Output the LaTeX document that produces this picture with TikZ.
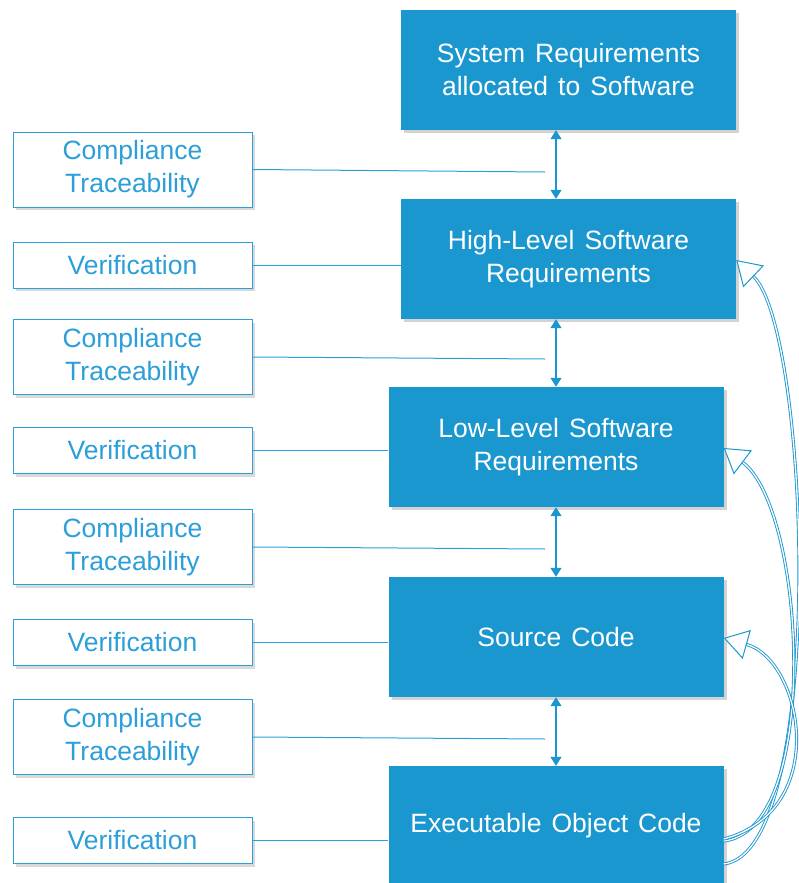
\documentclass[tikz,border=0pt]{standalone}
\usepackage{fontspec}
\setmainfont{Liberation Sans}
\usetikzlibrary{arrows.meta,shadows}
\definecolor{boxblue}{HTML}{1B97D0}
\definecolor{txtblue}{HTML}{2C9FD8}
\newcommand\wordgap{\spaceskip 10pt\relax}

\begin{document}
\begin{tikzpicture}[x=1pt,y=-1pt,
    stage/.style={fill=boxblue,text=white,minimum width=335pt,minimum height=120pt,align=center,
      font=\fontsize{26.5}{33}\selectfont\wordgap,drop shadow={shadow xshift=3pt,shadow yshift=-3pt,opacity=.35}},
    check/.style={draw=txtblue,fill=white,text=txtblue,line width=1pt,minimum width=239pt,align=center,
      font=\fontsize{26.5}{33}\selectfont,drop shadow={shadow xshift=3pt,shadow yshift=-3pt,opacity=.3}},
    link/.style={txtblue,line width=1pt},
    dbl/.style={boxblue,line width=1.3pt,{Triangle[length=9pt,width=11pt]}-{Triangle[length=9pt,width=11pt]}},
    back/.style={boxblue,double=white,double distance=1.3pt,line width=.9pt,
      -{Triangle[fill=white,length=24pt,width=30pt,line width=1pt]}}]
  \useasboundingbox (0,0) rectangle (798,883);
  \node[stage] (sys) at (568.5,70) {System Requirements\\allocated to Software};
  \node[stage] (hlr) at (568.5,259) {High-Level Software\\Requirements};
  \node[stage] (llr) at (556,447) {Low-Level Software\\Requirements};
  \node[stage] (src) at (556,637) {Source Code};
  \node[stage] (eoc) at (556,826) {Executable Object Code};
  \node[check,minimum height=75pt] (ct1) at (132.5,169.5) {Compliance\\Traceability};
  \node[check,minimum height=46pt] (v1) at (132.5,265) {Verification};
  \node[check,minimum height=75pt] (ct2) at (132.5,357) {Compliance\\Traceability};
  \node[check,minimum height=46pt] (v2) at (132.5,450.5) {Verification};
  \node[check,minimum height=75pt] (ct3) at (132.5,547) {Compliance\\Traceability};
  \node[check,minimum height=46pt] (v3) at (132.5,642.5) {Verification};
  \node[check,minimum height=75pt] (ct4) at (132.5,737) {Compliance\\Traceability};
  \node[check,minimum height=46pt] (v4) at (132.5,840.5) {Verification};
  \coordinate (t1) at (545,172);
  \coordinate (t2) at (545,359);
  \coordinate (t3) at (545,549);
  \coordinate (t4) at (545,739);
  \draw[dbl] (sys.south -| llr) -- (hlr.north -| llr);
  \draw[dbl] (hlr.south -| llr) -- (llr.north);
  \draw[dbl] (llr.south) -- (src.north);
  \draw[dbl] (src.south) -- (eoc.north);
  \draw[link] (ct1.east) -- (t1);
  \draw[link] (ct2.east) -- (t2);
  \draw[link] (ct3.east) -- (t3);
  \draw[link] (ct4.east) -- (t4);
  \draw[link] (v1.east) -- (v1.east -| hlr.west);
  \draw[link] (v2.east) -- (v2.east -| llr.west);
  \draw[link] (v3.east) -- (v3.east -| src.west);
  \draw[link] (v4.east) -- (v4.east -| eoc.west);
  \draw[back] ([yshift=-38pt]eoc.east) .. controls (828,852) and (810,330) .. ([yshift=-1pt]hlr.east);
  \draw[back] ([yshift=-15pt]eoc.east) .. controls (822,830) and (806,510) .. ([yshift=-1pt]llr.east);
  \draw[back] ([yshift=-13pt]eoc.east) .. controls (832,810) and (802,660) .. ([yshift=-1pt]src.east);
\end{tikzpicture}
\end{document}
